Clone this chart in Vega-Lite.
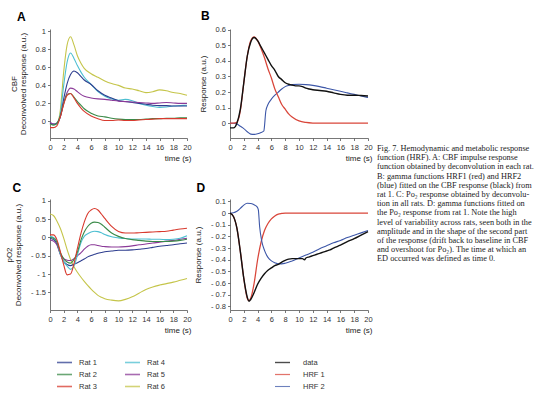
{
"$schema": "https://vega.github.io/schema/vega-lite/v6.json",
"padding": {"left": 5, "top": 9, "right": 0, "bottom": 0},
"config": {
 "view": {"stroke": null},
 "font": "Liberation Sans",
 "axis": {"grid": false, "labelFont": "Liberation Sans", "labelFontSize": 7.5, "labelColor": "#333", "domainColor": "#555", "domainWidth": 0.8, "tickColor": "#555", "tickSize": 2.5, "tickWidth": 0.8, "labelPadding": 2, "titleFont": "Liberation Sans", "titleFontSize": 8, "titleFontWeight": "normal", "titleColor": "#222", "titleLineHeight": 9, "labelOverlap": false},
 "axisX": {"titleAnchor": "end", "titleAlign": "right", "titlePadding": 3, "labelPadding": 3, "labelFlush": false},
 "title": {"fontSize": 12, "fontWeight": "bold", "anchor": "start", "frame": "bounds", "font": "Liberation Sans", "color": "#000"},
 "legend": {"labelFont": "Liberation Sans", "labelFontSize": 7.5, "labelColor": "#333", "symbolType": "stroke", "symbolSize": 225, "symbolStrokeWidth": 1.6, "labelOffset": 6, "rowPadding": 0, "columnPadding": 24, "title": null}
},
"datasets": {
 "cbf": [
  {"rat":"Rat 6","t":0,"v":-0.03},{"rat":"Rat 6","t":0.5,"v":-0.04},{"rat":"Rat 6","t":1,"v":-0.03},{"rat":"Rat 6","t":1.5,"v":0.12},{"rat":"Rat 6","t":2,"v":0.55},{"rat":"Rat 6","t":2.5,"v":0.85},{"rat":"Rat 6","t":3,"v":0.94},{"rat":"Rat 6","t":3.5,"v":0.85},{"rat":"Rat 6","t":4,"v":0.73},{"rat":"Rat 6","t":4.5,"v":0.65},{"rat":"Rat 6","t":5,"v":0.59},{"rat":"Rat 6","t":6,"v":0.53},{"rat":"Rat 6","t":7,"v":0.49},{"rat":"Rat 6","t":8,"v":0.45},{"rat":"Rat 6","t":9,"v":0.42},{"rat":"Rat 6","t":10,"v":0.4},{"rat":"Rat 6","t":11,"v":0.37},{"rat":"Rat 6","t":12,"v":0.36},{"rat":"Rat 6","t":13,"v":0.34},{"rat":"Rat 6","t":14,"v":0.32},{"rat":"Rat 6","t":15,"v":0.33},{"rat":"Rat 6","t":16,"v":0.35},{"rat":"Rat 6","t":17,"v":0.34},{"rat":"Rat 6","t":18,"v":0.32},{"rat":"Rat 6","t":19,"v":0.31},{"rat":"Rat 6","t":20,"v":0.29},
  {"rat":"Rat 4","t":0,"v":-0.02},{"rat":"Rat 4","t":0.5,"v":-0.04},{"rat":"Rat 4","t":1,"v":-0.03},{"rat":"Rat 4","t":1.5,"v":0.08},{"rat":"Rat 4","t":2,"v":0.4},{"rat":"Rat 4","t":2.5,"v":0.66},{"rat":"Rat 4","t":3,"v":0.76},{"rat":"Rat 4","t":3.5,"v":0.7},{"rat":"Rat 4","t":4,"v":0.62},{"rat":"Rat 4","t":4.5,"v":0.55},{"rat":"Rat 4","t":5,"v":0.49},{"rat":"Rat 4","t":6,"v":0.41},{"rat":"Rat 4","t":7,"v":0.33},{"rat":"Rat 4","t":8,"v":0.28},{"rat":"Rat 4","t":9,"v":0.25},{"rat":"Rat 4","t":10,"v":0.235},{"rat":"Rat 4","t":11,"v":0.245},{"rat":"Rat 4","t":12,"v":0.23},{"rat":"Rat 4","t":13,"v":0.2},{"rat":"Rat 4","t":14,"v":0.18},{"rat":"Rat 4","t":15,"v":0.165},{"rat":"Rat 4","t":16,"v":0.155},{"rat":"Rat 4","t":17,"v":0.16},{"rat":"Rat 4","t":18,"v":0.17},{"rat":"Rat 4","t":19,"v":0.175},{"rat":"Rat 4","t":20,"v":0.18},
  {"rat":"Rat 1","t":0,"v":-0.02},{"rat":"Rat 1","t":0.5,"v":-0.03},{"rat":"Rat 1","t":1,"v":-0.02},{"rat":"Rat 1","t":1.5,"v":0.05},{"rat":"Rat 1","t":2,"v":0.25},{"rat":"Rat 1","t":2.5,"v":0.42},{"rat":"Rat 1","t":3,"v":0.52},{"rat":"Rat 1","t":3.5,"v":0.56},{"rat":"Rat 1","t":4,"v":0.54},{"rat":"Rat 1","t":4.5,"v":0.5},{"rat":"Rat 1","t":5,"v":0.46},{"rat":"Rat 1","t":6,"v":0.41},{"rat":"Rat 1","t":7,"v":0.34},{"rat":"Rat 1","t":8,"v":0.29},{"rat":"Rat 1","t":9,"v":0.26},{"rat":"Rat 1","t":10,"v":0.23},{"rat":"Rat 1","t":11,"v":0.22},{"rat":"Rat 1","t":12,"v":0.21},{"rat":"Rat 1","t":13,"v":0.2},{"rat":"Rat 1","t":14,"v":0.19},{"rat":"Rat 1","t":15,"v":0.18},{"rat":"Rat 1","t":16,"v":0.175},{"rat":"Rat 1","t":17,"v":0.175},{"rat":"Rat 1","t":18,"v":0.17},{"rat":"Rat 1","t":19,"v":0.17},{"rat":"Rat 1","t":20,"v":0.17},
  {"rat":"Rat 5","t":0,"v":-0.01},{"rat":"Rat 5","t":0.5,"v":-0.03},{"rat":"Rat 5","t":1,"v":-0.02},{"rat":"Rat 5","t":1.5,"v":0.05},{"rat":"Rat 5","t":2,"v":0.2},{"rat":"Rat 5","t":2.5,"v":0.32},{"rat":"Rat 5","t":3,"v":0.37},{"rat":"Rat 5","t":3.5,"v":0.36},{"rat":"Rat 5","t":4,"v":0.33},{"rat":"Rat 5","t":4.5,"v":0.3},{"rat":"Rat 5","t":5,"v":0.28},{"rat":"Rat 5","t":6,"v":0.26},{"rat":"Rat 5","t":7,"v":0.25},{"rat":"Rat 5","t":8,"v":0.245},{"rat":"Rat 5","t":9,"v":0.235},{"rat":"Rat 5","t":10,"v":0.225},{"rat":"Rat 5","t":11,"v":0.22},{"rat":"Rat 5","t":12,"v":0.215},{"rat":"Rat 5","t":13,"v":0.21},{"rat":"Rat 5","t":14,"v":0.205},{"rat":"Rat 5","t":15,"v":0.2},{"rat":"Rat 5","t":16,"v":0.205},{"rat":"Rat 5","t":17,"v":0.21},{"rat":"Rat 5","t":18,"v":0.205},{"rat":"Rat 5","t":19,"v":0.2},{"rat":"Rat 5","t":20,"v":0.2},
  {"rat":"Rat 2","t":0,"v":-0.03},{"rat":"Rat 2","t":0.5,"v":-0.04},{"rat":"Rat 2","t":1,"v":-0.02},{"rat":"Rat 2","t":1.5,"v":0.06},{"rat":"Rat 2","t":2,"v":0.2},{"rat":"Rat 2","t":2.5,"v":0.3},{"rat":"Rat 2","t":3,"v":0.31},{"rat":"Rat 2","t":3.5,"v":0.27},{"rat":"Rat 2","t":4,"v":0.22},{"rat":"Rat 2","t":4.5,"v":0.18},{"rat":"Rat 2","t":5,"v":0.14},{"rat":"Rat 2","t":6,"v":0.09},{"rat":"Rat 2","t":7,"v":0.06},{"rat":"Rat 2","t":8,"v":0.05},{"rat":"Rat 2","t":9,"v":0.035},{"rat":"Rat 2","t":10,"v":0.025},{"rat":"Rat 2","t":11,"v":0.02},{"rat":"Rat 2","t":12,"v":0.02},{"rat":"Rat 2","t":13,"v":0.02},{"rat":"Rat 2","t":14,"v":0.025},{"rat":"Rat 2","t":15,"v":0.03},{"rat":"Rat 2","t":16,"v":0.03},{"rat":"Rat 2","t":17,"v":0.035},{"rat":"Rat 2","t":18,"v":0.035},{"rat":"Rat 2","t":19,"v":0.04},{"rat":"Rat 2","t":20,"v":0.04},
  {"rat":"Rat 3","t":0,"v":-0.07},{"rat":"Rat 3","t":0.5,"v":-0.07},{"rat":"Rat 3","t":1,"v":-0.05},{"rat":"Rat 3","t":1.5,"v":0.05},{"rat":"Rat 3","t":2,"v":0.19},{"rat":"Rat 3","t":2.5,"v":0.29},{"rat":"Rat 3","t":3,"v":0.31},{"rat":"Rat 3","t":3.5,"v":0.26},{"rat":"Rat 3","t":4,"v":0.2},{"rat":"Rat 3","t":4.5,"v":0.15},{"rat":"Rat 3","t":5,"v":0.11},{"rat":"Rat 3","t":6,"v":0.06},{"rat":"Rat 3","t":7,"v":0.03},{"rat":"Rat 3","t":8,"v":0.01},{"rat":"Rat 3","t":9,"v":0.01},{"rat":"Rat 3","t":10,"v":0.015},{"rat":"Rat 3","t":11,"v":0.01},{"rat":"Rat 3","t":12,"v":0.01},{"rat":"Rat 3","t":13,"v":0.015},{"rat":"Rat 3","t":14,"v":0.02},{"rat":"Rat 3","t":15,"v":0.025},{"rat":"Rat 3","t":16,"v":0.03},{"rat":"Rat 3","t":17,"v":0.03},{"rat":"Rat 3","t":18,"v":0.03},{"rat":"Rat 3","t":19,"v":0.03},{"rat":"Rat 3","t":20,"v":0.03}
 ],
 "po2": [
  {"rat":"Rat 6","t":0,"v":0.64},{"rat":"Rat 6","t":0.5,"v":0.6},{"rat":"Rat 6","t":1,"v":0.45},{"rat":"Rat 6","t":1.5,"v":0.25},{"rat":"Rat 6","t":2,"v":-0.02},{"rat":"Rat 6","t":2.5,"v":-0.33},{"rat":"Rat 6","t":3,"v":-0.6},{"rat":"Rat 6","t":3.5,"v":-0.8},{"rat":"Rat 6","t":4,"v":-0.95},{"rat":"Rat 6","t":4.5,"v":-1.08},{"rat":"Rat 6","t":5,"v":-1.2},{"rat":"Rat 6","t":5.5,"v":-1.31},{"rat":"Rat 6","t":6,"v":-1.41},{"rat":"Rat 6","t":6.5,"v":-1.5},{"rat":"Rat 6","t":7,"v":-1.58},{"rat":"Rat 6","t":7.5,"v":-1.63},{"rat":"Rat 6","t":8,"v":-1.67},{"rat":"Rat 6","t":9,"v":-1.71},{"rat":"Rat 6","t":10,"v":-1.73},{"rat":"Rat 6","t":11,"v":-1.69},{"rat":"Rat 6","t":12,"v":-1.62},{"rat":"Rat 6","t":13,"v":-1.52},{"rat":"Rat 6","t":14,"v":-1.42},{"rat":"Rat 6","t":15,"v":-1.35},{"rat":"Rat 6","t":16,"v":-1.3},{"rat":"Rat 6","t":17,"v":-1.26},{"rat":"Rat 6","t":18,"v":-1.22},{"rat":"Rat 6","t":19,"v":-1.17},{"rat":"Rat 6","t":20,"v":-1.12},
  {"rat":"Rat 1","t":0,"v":-0.02},{"rat":"Rat 1","t":0.5,"v":-0.06},{"rat":"Rat 1","t":1,"v":-0.17},{"rat":"Rat 1","t":1.5,"v":-0.45},{"rat":"Rat 1","t":2,"v":-0.66},{"rat":"Rat 1","t":2.5,"v":-0.74},{"rat":"Rat 1","t":3,"v":-0.77},{"rat":"Rat 1","t":3.5,"v":-0.73},{"rat":"Rat 1","t":4,"v":-0.69},{"rat":"Rat 1","t":4.5,"v":-0.64},{"rat":"Rat 1","t":5,"v":-0.59},{"rat":"Rat 1","t":5.5,"v":-0.53},{"rat":"Rat 1","t":6,"v":-0.49},{"rat":"Rat 1","t":6.5,"v":-0.46},{"rat":"Rat 1","t":7,"v":-0.43},{"rat":"Rat 1","t":7.5,"v":-0.41},{"rat":"Rat 1","t":8,"v":-0.39},{"rat":"Rat 1","t":9,"v":-0.37},{"rat":"Rat 1","t":10,"v":-0.35},{"rat":"Rat 1","t":11,"v":-0.35},{"rat":"Rat 1","t":12,"v":-0.34},{"rat":"Rat 1","t":13,"v":-0.32},{"rat":"Rat 1","t":14,"v":-0.3},{"rat":"Rat 1","t":15,"v":-0.27},{"rat":"Rat 1","t":16,"v":-0.24},{"rat":"Rat 1","t":17,"v":-0.22},{"rat":"Rat 1","t":18,"v":-0.2},{"rat":"Rat 1","t":19,"v":-0.17},{"rat":"Rat 1","t":20,"v":-0.15},
  {"rat":"Rat 5","t":0,"v":-0.06},{"rat":"Rat 5","t":0.5,"v":-0.1},{"rat":"Rat 5","t":1,"v":-0.2},{"rat":"Rat 5","t":1.5,"v":-0.45},{"rat":"Rat 5","t":2,"v":-0.58},{"rat":"Rat 5","t":2.5,"v":-0.62},{"rat":"Rat 5","t":3,"v":-0.63},{"rat":"Rat 5","t":3.5,"v":-0.58},{"rat":"Rat 5","t":4,"v":-0.5},{"rat":"Rat 5","t":4.5,"v":-0.42},{"rat":"Rat 5","t":5,"v":-0.32},{"rat":"Rat 5","t":5.5,"v":-0.24},{"rat":"Rat 5","t":6,"v":-0.2},{"rat":"Rat 5","t":6.5,"v":-0.2},{"rat":"Rat 5","t":7,"v":-0.22},{"rat":"Rat 5","t":7.5,"v":-0.24},{"rat":"Rat 5","t":8,"v":-0.25},{"rat":"Rat 5","t":9,"v":-0.26},{"rat":"Rat 5","t":10,"v":-0.26},{"rat":"Rat 5","t":11,"v":-0.25},{"rat":"Rat 5","t":12,"v":-0.23},{"rat":"Rat 5","t":13,"v":-0.2},{"rat":"Rat 5","t":14,"v":-0.18},{"rat":"Rat 5","t":15,"v":-0.15},{"rat":"Rat 5","t":16,"v":-0.13},{"rat":"Rat 5","t":17,"v":-0.1},{"rat":"Rat 5","t":18,"v":-0.08},{"rat":"Rat 5","t":19,"v":-0.05},{"rat":"Rat 5","t":20,"v":-0.02},
  {"rat":"Rat 4","t":0,"v":0.03},{"rat":"Rat 4","t":0.5,"v":0.0},{"rat":"Rat 4","t":1,"v":-0.1},{"rat":"Rat 4","t":1.5,"v":-0.45},{"rat":"Rat 4","t":2,"v":-0.66},{"rat":"Rat 4","t":2.5,"v":-0.78},{"rat":"Rat 4","t":3,"v":-0.87},{"rat":"Rat 4","t":3.5,"v":-0.78},{"rat":"Rat 4","t":4,"v":-0.48},{"rat":"Rat 4","t":4.5,"v":-0.15},{"rat":"Rat 4","t":5,"v":0.03},{"rat":"Rat 4","t":5.5,"v":0.1},{"rat":"Rat 4","t":6,"v":0.15},{"rat":"Rat 4","t":6.5,"v":0.17},{"rat":"Rat 4","t":7,"v":0.16},{"rat":"Rat 4","t":7.5,"v":0.13},{"rat":"Rat 4","t":8,"v":0.08},{"rat":"Rat 4","t":9,"v":0.02},{"rat":"Rat 4","t":10,"v":-0.01},{"rat":"Rat 4","t":11,"v":-0.03},{"rat":"Rat 4","t":12,"v":-0.04},{"rat":"Rat 4","t":13,"v":-0.04},{"rat":"Rat 4","t":14,"v":-0.04},{"rat":"Rat 4","t":15,"v":-0.05},{"rat":"Rat 4","t":16,"v":-0.05},{"rat":"Rat 4","t":17,"v":-0.06},{"rat":"Rat 4","t":18,"v":-0.05},{"rat":"Rat 4","t":19,"v":-0.02},{"rat":"Rat 4","t":20,"v":0.05},
  {"rat":"Rat 2","t":0,"v":0.0},{"rat":"Rat 2","t":0.5,"v":-0.02},{"rat":"Rat 2","t":1,"v":-0.12},{"rat":"Rat 2","t":1.5,"v":-0.4},{"rat":"Rat 2","t":2,"v":-0.58},{"rat":"Rat 2","t":2.5,"v":-0.67},{"rat":"Rat 2","t":3,"v":-0.7},{"rat":"Rat 2","t":3.5,"v":-0.6},{"rat":"Rat 2","t":4,"v":-0.4},{"rat":"Rat 2","t":4.5,"v":-0.08},{"rat":"Rat 2","t":5,"v":0.15},{"rat":"Rat 2","t":5.5,"v":0.3},{"rat":"Rat 2","t":6,"v":0.39},{"rat":"Rat 2","t":6.5,"v":0.42},{"rat":"Rat 2","t":7,"v":0.41},{"rat":"Rat 2","t":7.5,"v":0.36},{"rat":"Rat 2","t":8,"v":0.28},{"rat":"Rat 2","t":9,"v":0.12},{"rat":"Rat 2","t":10,"v":0.03},{"rat":"Rat 2","t":11,"v":-0.03},{"rat":"Rat 2","t":12,"v":-0.06},{"rat":"Rat 2","t":13,"v":-0.08},{"rat":"Rat 2","t":14,"v":-0.1},{"rat":"Rat 2","t":15,"v":-0.11},{"rat":"Rat 2","t":16,"v":-0.11},{"rat":"Rat 2","t":17,"v":-0.11},{"rat":"Rat 2","t":18,"v":-0.1},{"rat":"Rat 2","t":19,"v":-0.08},{"rat":"Rat 2","t":20,"v":-0.05},
  {"rat":"Rat 3","t":0,"v":0.07},{"rat":"Rat 3","t":0.5,"v":0.07},{"rat":"Rat 3","t":1,"v":-0.06},{"rat":"Rat 3","t":1.5,"v":-0.38},{"rat":"Rat 3","t":2,"v":-0.75},{"rat":"Rat 3","t":2.5,"v":-1.02},{"rat":"Rat 3","t":3,"v":-1.0},{"rat":"Rat 3","t":3.5,"v":-0.72},{"rat":"Rat 3","t":4,"v":-0.3},{"rat":"Rat 3","t":4.5,"v":0.1},{"rat":"Rat 3","t":5,"v":0.42},{"rat":"Rat 3","t":5.5,"v":0.65},{"rat":"Rat 3","t":6,"v":0.75},{"rat":"Rat 3","t":6.5,"v":0.79},{"rat":"Rat 3","t":7,"v":0.75},{"rat":"Rat 3","t":7.5,"v":0.64},{"rat":"Rat 3","t":8,"v":0.52},{"rat":"Rat 3","t":9,"v":0.3},{"rat":"Rat 3","t":10,"v":0.16},{"rat":"Rat 3","t":11,"v":0.12},{"rat":"Rat 3","t":12,"v":0.12},{"rat":"Rat 3","t":13,"v":0.13},{"rat":"Rat 3","t":14,"v":0.14},{"rat":"Rat 3","t":15,"v":0.15},{"rat":"Rat 3","t":16,"v":0.16},{"rat":"Rat 3","t":17,"v":0.17},{"rat":"Rat 3","t":18,"v":0.2},{"rat":"Rat 3","t":19,"v":0.23},{"rat":"Rat 3","t":20,"v":0.25}
 ],
 "fitB": [
  {"series":"HRF 2","t":0,"v":0},{"series":"HRF 2","t":0.5,"v":0},{"series":"HRF 2","t":1,"v":-0.005},{"series":"HRF 2","t":1.5,"v":-0.02},{"series":"HRF 2","t":2,"v":-0.035},{"series":"HRF 2","t":2.5,"v":-0.055},{"series":"HRF 2","t":3,"v":-0.07},{"series":"HRF 2","t":3.5,"v":-0.072},{"series":"HRF 2","t":4,"v":-0.068},{"series":"HRF 2","t":4.5,"v":-0.06},{"series":"HRF 2","t":4.9,"v":-0.05},{"series":"HRF 2","t":5.2,"v":0.08},{"series":"HRF 2","t":5.5,"v":0.12},{"series":"HRF 2","t":6,"v":0.155},{"series":"HRF 2","t":6.5,"v":0.18},{"series":"HRF 2","t":7,"v":0.2},{"series":"HRF 2","t":7.5,"v":0.22},{"series":"HRF 2","t":8,"v":0.235},{"series":"HRF 2","t":8.5,"v":0.243},{"series":"HRF 2","t":9,"v":0.248},{"series":"HRF 2","t":10,"v":0.25},{"series":"HRF 2","t":11,"v":0.248},{"series":"HRF 2","t":12,"v":0.243},{"series":"HRF 2","t":13,"v":0.235},{"series":"HRF 2","t":14,"v":0.225},{"series":"HRF 2","t":15,"v":0.215},{"series":"HRF 2","t":16,"v":0.205},{"series":"HRF 2","t":17,"v":0.195},{"series":"HRF 2","t":18,"v":0.185},{"series":"HRF 2","t":19,"v":0.175},{"series":"HRF 2","t":20,"v":0.165},
  {"series":"HRF 1","t":0,"v":0},{"series":"HRF 1","t":0.5,"v":0},{"series":"HRF 1","t":1,"v":0.005},{"series":"HRF 1","t":1.5,"v":0.08},{"series":"HRF 1","t":2,"v":0.26},{"series":"HRF 1","t":2.5,"v":0.43},{"series":"HRF 1","t":3,"v":0.53},{"series":"HRF 1","t":3.5,"v":0.555},{"series":"HRF 1","t":4,"v":0.53},{"series":"HRF 1","t":4.5,"v":0.48},{"series":"HRF 1","t":5,"v":0.42},{"series":"HRF 1","t":5.5,"v":0.35},{"series":"HRF 1","t":6,"v":0.29},{"series":"HRF 1","t":6.5,"v":0.22},{"series":"HRF 1","t":7,"v":0.17},{"series":"HRF 1","t":7.5,"v":0.12},{"series":"HRF 1","t":8,"v":0.09},{"series":"HRF 1","t":8.5,"v":0.06},{"series":"HRF 1","t":9,"v":0.04},{"series":"HRF 1","t":10,"v":0.015},{"series":"HRF 1","t":11,"v":0.005},{"series":"HRF 1","t":12,"v":0.001},{"series":"HRF 1","t":13,"v":0},{"series":"HRF 1","t":14,"v":0},{"series":"HRF 1","t":16,"v":0},{"series":"HRF 1","t":18,"v":0},{"series":"HRF 1","t":20,"v":0},
  {"series":"data","t":0,"v":-0.03},{"series":"data","t":0.5,"v":-0.03},{"series":"data","t":1,"v":0.0},{"series":"data","t":1.5,"v":0.09},{"series":"data","t":2,"v":0.26},{"series":"data","t":2.5,"v":0.43},{"series":"data","t":3,"v":0.52},{"series":"data","t":3.5,"v":0.55},{"series":"data","t":4,"v":0.53},{"series":"data","t":4.5,"v":0.49},{"series":"data","t":5,"v":0.45},{"series":"data","t":5.5,"v":0.41},{"series":"data","t":6,"v":0.37},{"series":"data","t":6.5,"v":0.34},{"series":"data","t":7,"v":0.3},{"series":"data","t":7.5,"v":0.28},{"series":"data","t":8,"v":0.26},{"series":"data","t":8.5,"v":0.25},{"series":"data","t":9,"v":0.245},{"series":"data","t":9.5,"v":0.24},{"series":"data","t":10,"v":0.24},{"series":"data","t":10.5,"v":0.235},{"series":"data","t":11,"v":0.225},{"series":"data","t":11.5,"v":0.22},{"series":"data","t":12,"v":0.215},{"series":"data","t":13,"v":0.21},{"series":"data","t":14,"v":0.205},{"series":"data","t":15,"v":0.195},{"series":"data","t":16,"v":0.185},{"series":"data","t":17,"v":0.18},{"series":"data","t":18,"v":0.18},{"series":"data","t":19,"v":0.178},{"series":"data","t":20,"v":0.175}
 ],
 "fitD": [
  {"series":"HRF 1","t":0,"v":0},{"series":"HRF 1","t":0.5,"v":-0.03},{"series":"HRF 1","t":1,"v":-0.13},{"series":"HRF 1","t":1.5,"v":-0.33},{"series":"HRF 1","t":2,"v":-0.56},{"series":"HRF 1","t":2.5,"v":-0.73},{"series":"HRF 1","t":2.75,"v":-0.75},{"series":"HRF 1","t":3,"v":-0.73},{"series":"HRF 1","t":3.5,"v":-0.6},{"series":"HRF 1","t":4,"v":-0.4},{"series":"HRF 1","t":4.5,"v":-0.25},{"series":"HRF 1","t":5,"v":-0.15},{"series":"HRF 1","t":5.5,"v":-0.09},{"series":"HRF 1","t":6,"v":-0.05},{"series":"HRF 1","t":6.5,"v":-0.025},{"series":"HRF 1","t":7,"v":-0.01},{"series":"HRF 1","t":7.5,"v":-0.004},{"series":"HRF 1","t":8,"v":0},{"series":"HRF 1","t":10,"v":0},{"series":"HRF 1","t":12,"v":0},{"series":"HRF 1","t":14,"v":0},{"series":"HRF 1","t":16,"v":0},{"series":"HRF 1","t":18,"v":0},{"series":"HRF 1","t":20,"v":0},
  {"series":"HRF 2","t":0,"v":0},{"series":"HRF 2","t":0.5,"v":0.003},{"series":"HRF 2","t":1,"v":0.015},{"series":"HRF 2","t":1.5,"v":0.04},{"series":"HRF 2","t":2,"v":0.068},{"series":"HRF 2","t":2.5,"v":0.083},{"series":"HRF 2","t":3,"v":0.082},{"series":"HRF 2","t":3.5,"v":0.07},{"series":"HRF 2","t":3.9,"v":0.055},{"series":"HRF 2","t":4.1,"v":0.03},{"series":"HRF 2","t":4.3,"v":-0.12},{"series":"HRF 2","t":4.6,"v":-0.24},{"series":"HRF 2","t":5,"v":-0.32},{"series":"HRF 2","t":5.5,"v":-0.38},{"series":"HRF 2","t":6,"v":-0.41},{"series":"HRF 2","t":6.5,"v":-0.425},{"series":"HRF 2","t":7,"v":-0.435},{"series":"HRF 2","t":7.5,"v":-0.435},{"series":"HRF 2","t":8,"v":-0.43},{"series":"HRF 2","t":9,"v":-0.41},{"series":"HRF 2","t":10,"v":-0.385},{"series":"HRF 2","t":11,"v":-0.36},{"series":"HRF 2","t":12,"v":-0.335},{"series":"HRF 2","t":13,"v":-0.305},{"series":"HRF 2","t":14,"v":-0.28},{"series":"HRF 2","t":15,"v":-0.255},{"series":"HRF 2","t":16,"v":-0.235},{"series":"HRF 2","t":17,"v":-0.21},{"series":"HRF 2","t":18,"v":-0.19},{"series":"HRF 2","t":19,"v":-0.17},{"series":"HRF 2","t":20,"v":-0.15},
  {"series":"data","t":0,"v":0},{"series":"data","t":0.5,"v":-0.03},{"series":"data","t":1,"v":-0.13},{"series":"data","t":1.5,"v":-0.33},{"series":"data","t":2,"v":-0.56},{"series":"data","t":2.5,"v":-0.72},{"series":"data","t":2.75,"v":-0.755},{"series":"data","t":3,"v":-0.74},{"series":"data","t":3.5,"v":-0.68},{"series":"data","t":4,"v":-0.61},{"series":"data","t":4.5,"v":-0.56},{"series":"data","t":5,"v":-0.52},{"series":"data","t":5.5,"v":-0.49},{"series":"data","t":6,"v":-0.47},{"series":"data","t":6.5,"v":-0.45},{"series":"data","t":7,"v":-0.44},{"series":"data","t":7.5,"v":-0.42},{"series":"data","t":8,"v":-0.405},{"series":"data","t":8.5,"v":-0.395},{"series":"data","t":9,"v":-0.39},{"series":"data","t":9.5,"v":-0.39},{"series":"data","t":10,"v":-0.39},{"series":"data","t":10.5,"v":-0.39},{"series":"data","t":10.8,"v":-0.4},{"series":"data","t":11,"v":-0.385},{"series":"data","t":11.5,"v":-0.375},{"series":"data","t":12,"v":-0.365},{"series":"data","t":12.5,"v":-0.355},{"series":"data","t":13,"v":-0.345},{"series":"data","t":13.5,"v":-0.335},{"series":"data","t":14,"v":-0.325},{"series":"data","t":14.5,"v":-0.315},{"series":"data","t":15,"v":-0.3},{"series":"data","t":16,"v":-0.275},{"series":"data","t":17,"v":-0.245},{"series":"data","t":18,"v":-0.22},{"series":"data","t":19,"v":-0.19},{"series":"data","t":20,"v":-0.16}
 ],
 "caption": [
  {"line":0,"text":"Fig. 7. Hemodynamic and metabolic response"},
  {"line":1,"text":"function (HRF). A: CBF impulse response"},
  {"line":2,"text":"function obtained by deconvolution in each rat."},
  {"line":3,"text":"B: gamma functions HRF1 (red) and HRF2"},
  {"line":4,"text":"(blue) fitted on the CBF response (black) from"},
  {"line":5,"text":"rat 1. C: Po₂ response obtained by deconvolu-"},
  {"line":6,"text":"tion in all rats. D: gamma functions fitted on"},
  {"line":7,"text":"the Po₂ response from rat 1. Note the high"},
  {"line":8,"text":"level of variability across rats, seen both in the"},
  {"line":9,"text":"amplitude and in the shape of the second part"},
  {"line":10,"text":"of the response (drift back to baseline in CBF"},
  {"line":11,"text":"and overshoot for Po₂). The time at which an"},
  {"line":12,"text":"ED occurred was defined as time 0."}
 ]
},
"spacing": 4,
"hconcat": [
 {
  "columns": 2,
  "spacing": {"row": 61, "column": 43},
  "bounds": "flush",
  "resolve": {"scale": {"color": "independent", "strokeWidth": "independent"}},
  "concat": [
   {
    "title": {"text": "A", "offset": 3, "dx": 7},
    "width": 137, "height": 109,
    "data": {"name": "cbf"},
    "mark": {"type": "line", "strokeWidth": 1.1, "interpolate": "monotone"},
    "encoding": {
     "x": {"field": "t", "type": "quantitative", "scale": {"domain": [0, 20], "nice": false}, "axis": {"values": [0,2,4,6,8,10,12,14,16,18,20], "title": "time (s)", "titleX": 141}},
     "y": {"field": "v", "type": "quantitative", "scale": {"domain": [-0.185, 1.027], "nice": false, "zero": false}, "axis": {"values": [0,0.2,0.4,0.6,0.8,1], "title": ["CBF", "Deconvolved response (a.u.)"], "titlePadding": 8, "labelExpr": "(datum.value < 0 ? '- ' : '') + format(abs(datum.value), '~g')"}},
     "color": {"field": "rat", "type": "nominal", "scale": {"domain": ["Rat 1","Rat 2","Rat 3","Rat 4","Rat 5","Rat 6"], "range": ["#2e3e8f","#3a8a48","#d83a2e","#4dbfd1","#8b3a98","#c5c54a"]}, "legend": null}
    }
   },
   {
    "title": {"text": "B", "offset": 3, "dx": 2},
    "width": 138, "height": 109,
    "data": {"name": "fitB"},
    "mark": {"type": "line", "interpolate": "monotone"},
    "encoding": {
     "x": {"field": "t", "type": "quantitative", "scale": {"domain": [0, 20], "nice": false}, "axis": {"values": [0,2,4,6,8,10,12,14,16,18,20], "title": "time (s)", "titleX": 142}},
     "y": {"field": "v", "type": "quantitative", "scale": {"domain": [-0.095, 0.605], "nice": false, "zero": false}, "axis": {"values": [0,0.1,0.2,0.3,0.4,0.5,0.6], "title": "Response (a.u.)", "titlePadding": 8, "labelExpr": "(datum.value < 0 ? '- ' : '') + format(abs(datum.value), '~g')"}},
     "color": {"field": "series", "type": "nominal", "scale": {"domain": ["data","HRF 1","HRF 2"], "range": ["#111111","#d9463a","#3d57a8"]}, "legend": null},
     "strokeWidth": {"field": "series", "type": "nominal", "scale": {"domain": ["data","HRF 1","HRF 2"], "range": [1.4, 1.1, 1.1]}, "legend": null}
    }
   },
   {
    "title": {"text": "C", "offset": 2, "dx": 7},
    "width": 137, "height": 111,
    "data": {"name": "po2"},
    "mark": {"type": "line", "strokeWidth": 1.1, "interpolate": "monotone"},
    "encoding": {
     "x": {"field": "t", "type": "quantitative", "scale": {"domain": [0, 20], "nice": false}, "axis": {"values": [0,2,4,6,8,10,12,14,16,18,20], "title": "time (s)", "titleX": 141}},
     "y": {"field": "v", "type": "quantitative", "scale": {"domain": [-1.98, 1.05], "nice": false, "zero": false}, "axis": {"values": [-1.5,-1,-0.5,0,0.5,1], "title": ["pO2", "Deconvolved response (a.u.)"], "titlePadding": 8, "labelExpr": "(datum.value < 0 ? '- ' : '') + format(abs(datum.value), '~g')"}},
     "color": {"field": "rat", "type": "nominal", "scale": {"domain": ["Rat 1","Rat 2","Rat 3","Rat 4","Rat 5","Rat 6"], "range": ["#2e3e8f","#3a8a48","#d83a2e","#4dbfd1","#8b3a98","#c5c54a"]}, "legend": {"orient": "none", "legendX": 6, "legendY": 155, "columns": 2, "symbolOpacity": 0.75}}
    }
   },
   {
    "title": {"text": "D", "offset": 2, "dx": 2},
    "width": 138, "height": 111,
    "data": {"name": "fitD"},
    "mark": {"type": "line", "interpolate": "monotone"},
    "encoding": {
     "x": {"field": "t", "type": "quantitative", "scale": {"domain": [0, 20], "nice": false}, "axis": {"values": [0,2,4,6,8,10,12,14,16,18,20], "title": "time (s)", "titleX": 142}},
     "y": {"field": "v", "type": "quantitative", "scale": {"domain": [-0.83, 0.12], "nice": false, "zero": false}, "axis": {"values": [-0.8,-0.7,-0.6,-0.5,-0.4,-0.3,-0.2,-0.1,0,0.1], "title": "Response (a.u.)", "titlePadding": 8, "labelExpr": "(datum.value < 0 ? '- ' : '') + format(abs(datum.value), '~g')"}},
     "color": {"field": "series", "type": "nominal", "scale": {"domain": ["data","HRF 1","HRF 2"], "range": ["#111111","#d9463a","#3d57a8"]}, "legend": {"orient": "none", "legendX": 44, "legendY": 155, "labelOffset": 12, "symbolOpacity": 0.75}},
     "strokeWidth": {"field": "series", "type": "nominal", "scale": {"domain": ["data","HRF 1","HRF 2"], "range": [1.4, 1.1, 1.1]}, "legend": null}
    }
   }
  ]
 },
 {
  "width": 172, "height": 260,
  "data": {"name": "caption"},
  "mark": {"type": "text", "align": "left", "baseline": "middle", "font": "Liberation Serif", "fontSize": 8.3, "color": "#222"},
  "encoding": {
   "x": {"value": 0},
   "y": {"field": "line", "type": "quantitative", "scale": {"domain": [-13.04, 15.22], "reverse": true, "nice": false, "zero": false}, "axis": null},
   "text": {"field": "text"}
  }
 }
]
}
